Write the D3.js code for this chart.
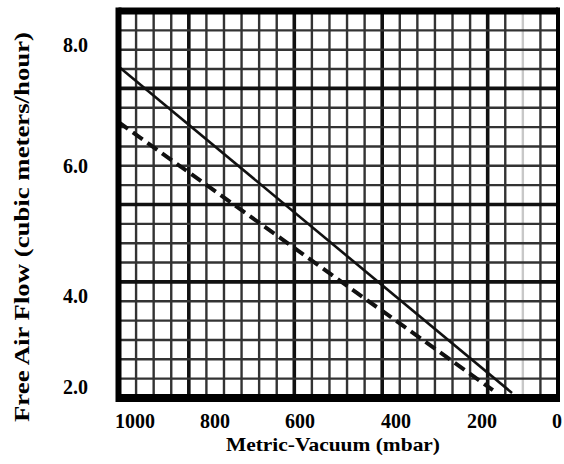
<!DOCTYPE html>
<html>
<head>
<meta charset="utf-8">
<script src="https://cdn.jsdelivr.net/npm/d3@7"></script>
<style>
  body { margin: 0; background: #fff; }
  svg { display: block; font-family: "Liberation Serif", "Times New Roman", serif; font-weight: bold; }
</style>
</head>
<body>
<div id="chart"></div>
<script>
const xTicks = [1000, 800, 600, 400, 200, 0];
const yTicks = [2.0, 4.0, 6.0, 8.0];

// two pump curves at both ends (they are straight)
const solidVacuum = [1042, 120];
const solidFlow = [7.65, 1.87];
const dashedVacuum = [1042, 171];
const dashedFlow = [6.73, 1.93];

// graph paper behind the curves
const paperCols = 25, paperRows = 20;
const heavyCols = [4, 10, 15, 21];
const heavyRows = [6, 10, 16];
const faintCols = [23];

const width = 564, height = 464;
const plotLeft = 118.5, plotRight = 558, plotTop = 11, plotBottom = 398;

const svg = d3.select("#chart")
    .append("svg")
    .attr("width", width)
    .attr("height", height);

// the printed chart is a scan, the tick labels are not evenly spaced
const x = d3.scaleLinear()
    .domain(xTicks)
    .range([135, 215, 300, 396, 482, 557]);

const y = d3.scaleLinear()
    .domain(yTicks)
    .range([387, 296, 166, 45]);

const px = d3.scaleLinear().domain([0, paperCols]).range([plotLeft, plotRight]);
const py = d3.scaleLinear().domain([0, paperRows]).range([plotBottom, plotTop]);

svg.append("clipPath")
    .attr("id", "plot-clip")
    .append("rect")
    .attr("x", plotLeft)
    .attr("y", plotTop)
    .attr("width", plotRight - plotLeft)
    .attr("height", plotBottom - plotTop);

const grid = svg.append("g");

grid.selectAll(".col")
    .data(d3.range(1, paperCols))
    .enter()
    .append("line")
    .attr("x1", d => px(d))
    .attr("x2", d => px(d))
    .attr("y1", plotTop)
    .attr("y2", plotBottom)
    .attr("stroke", d => faintCols.includes(d) ? "#c8c8c8" : heavyCols.includes(d) ? "#111" : "#333")
    .attr("stroke-width", d => heavyCols.includes(d) ? 3.6 : 2.4);

grid.selectAll(".row")
    .data(d3.range(1, paperRows))
    .enter()
    .append("line")
    .attr("x1", plotLeft)
    .attr("x2", plotRight)
    .attr("y1", d => py(d))
    .attr("y2", d => py(d))
    .attr("stroke", d => heavyRows.includes(d) ? "#111" : "#333")
    .attr("stroke-width", d => heavyRows.includes(d) ? 3.6 : 2.4);

const line = d3.line()
    .x(d => x(d[0]))
    .y(d => y(d[1]));

const curves = svg.append("g").attr("clip-path", "url(#plot-clip)");

curves.append("path")
    .datum(d3.zip(solidVacuum, solidFlow))
    .attr("fill", "none")
    .attr("stroke", "#111")
    .attr("stroke-width", 2.6)
    .attr("d", line);

curves.append("path")
    .datum(d3.zip(dashedVacuum, dashedFlow))
    .attr("fill", "none")
    .attr("stroke", "#111")
    .attr("stroke-width", 4)
    .attr("stroke-dasharray", "12,6")
    .attr("d", line);

// frame, heavier at the bottom like the scan
const frame = [
    { x1: plotLeft, y1: plotTop, x2: plotRight, y2: plotTop, w: 7 },
    { x1: plotLeft, y1: plotBottom, x2: plotRight, y2: plotBottom, w: 8 },
    { x1: plotLeft, y1: plotTop - 3.5, x2: plotLeft, y2: plotBottom + 4, w: 6 },
    { x1: plotRight, y1: plotTop - 3.5, x2: plotRight, y2: plotBottom + 4, w: 4 }
];

svg.selectAll(".frame")
    .data(frame)
    .enter()
    .append("line")
    .attr("x1", d => d.x1)
    .attr("y1", d => d.y1)
    .attr("x2", d => d.x2)
    .attr("y2", d => d.y2)
    .attr("stroke", "#000")
    .attr("stroke-width", d => d.w);

svg.selectAll(".xtick")
    .data(xTicks)
    .enter()
    .append("text")
    .attr("x", d => x(d))
    .attr("y", 428)
    .attr("text-anchor", "middle")
    .attr("font-size", "20px")
    .text(d => d);

svg.selectAll(".ytick")
    .data(yTicks)
    .enter()
    .append("text")
    .attr("x", 88)
    .attr("y", d => y(d))
    .attr("dy", "0.35em")
    .attr("text-anchor", "end")
    .attr("font-size", "20px")
    .text(d => d3.format(".1f")(d));

svg.append("text")
    .attr("x", 333)
    .attr("y", 451)
    .attr("text-anchor", "middle")
    .attr("font-size", "19px")
    .attr("textLength", 214)
    .attr("lengthAdjust", "spacingAndGlyphs")
    .text("Metric-Vacuum (mbar)");

svg.append("text")
    .attr("transform", "translate(29, 227) rotate(-90)")
    .attr("text-anchor", "middle")
    .attr("font-size", "22px")
    .attr("textLength", 390)
    .attr("lengthAdjust", "spacingAndGlyphs")
    .text("Free Air Flow (cubic meters/hour)");
</script>
</body>
</html>
